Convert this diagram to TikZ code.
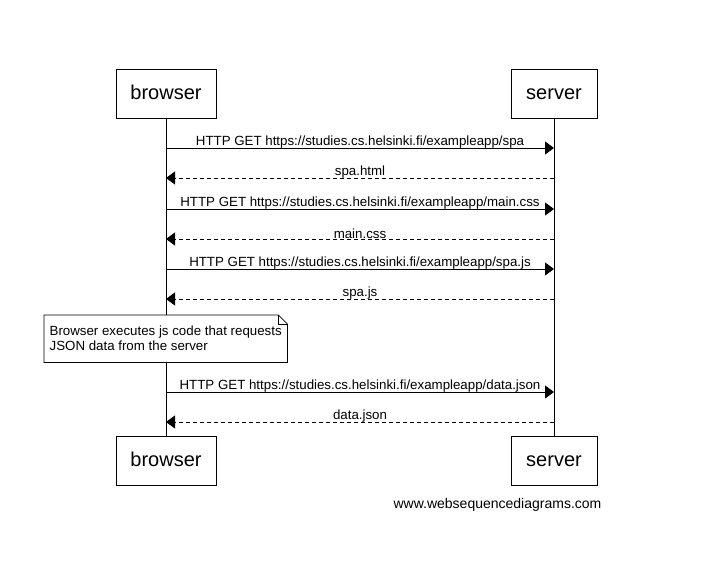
\documentclass[tikz,border=0pt]{standalone}
\usepackage{fontspec}
\setmainfont{Liberation Sans}
\usetikzlibrary{arrows.meta}
\tikzset{
  actor/.style={draw, line width=0.8pt, minimum height=49pt, inner sep=0pt,
    text height=14.5pt, text depth=2pt, font=\fontsize{20}{24}\selectfont},
  lifeline/.style={line width=0.8pt},
  msg/.style={line width=0.8pt, -{Triangle[length=9pt,width=13pt]}},
  reply/.style={msg, dash pattern=on 4pt off 3pt},
  msglabel/.style={midway, above, inner sep=0pt, yshift=-0.5pt, font=\fontsize{13.3}{15}\selectfont}
}

\begin{document}
\begin{tikzpicture}[x=1pt, y=-1pt]
  \useasboundingbox (0,0) rectangle (719,565);

  % ACTORS
  % top boxes
  \node[actor, minimum width=100pt] (browsertop) at (166,93.5) {browser};
  \node[actor, minimum width=86pt] (servertop) at (554,93.5) {server};
  % bottom boxes
  \node[actor, minimum width=100pt] (browserbot) at (166,460.5) {browser};
  \node[actor, minimum width=86pt] (serverbot) at (554,460.5) {server};

  % LIFELINES
  \draw[lifeline] (browsertop) -- (browserbot);
  \draw[lifeline] (servertop) -- (serverbot);

  % MESSAGES
  % points on the lifelines
  \foreach \name/\y in {1/148,2/178,3/209,4/239,5/269,6/299,7/392,8/422}{
    \coordinate (b\name) at (166,\y);
    \coordinate (s\name) at (554,\y);
  }
  % spa
  \draw[msg] (b1) -- (s1) node[msglabel] {HTTP GET https://studies.cs.helsinki.fi/exampleapp/spa};
  \draw[reply] (s2) -- (b2) node[msglabel] {spa.html};
  % main.css
  \draw[msg] (b3) -- (s3) node[msglabel] {HTTP GET https://studies.cs.helsinki.fi/exampleapp/main.css};
  \draw[reply] (s4) -- (b4) node[msglabel] {main.css};
  % spa.js
  \draw[msg] (b5) -- (s5) node[msglabel] {HTTP GET https://studies.cs.helsinki.fi/exampleapp/spa.js};
  \draw[reply] (s6) -- (b6) node[msglabel] {spa.js};

  % NOTE
  \node[anchor=north west, minimum width=243pt, minimum height=47pt, inner sep=0pt,
        align=left, fill=white, font=\fontsize{13.3}{15}\selectfont]
        (note) at (44,315) {Browser executes js code that requests\\JSON data from the server};
  \draw[line width=0.8pt] (note.north west) -- ([xshift=-9pt]note.north east)
    -- ([yshift=-9pt]note.north east) -- (note.south east) -- (note.south west) -- cycle;
  \draw[line width=0.8pt] ([xshift=-9pt]note.north east) -- ([xshift=-9pt,yshift=-9pt]note.north east)
    -- ([yshift=-9pt]note.north east);

  % data.json
  \draw[msg] (b7) -- (s7) node[msglabel] {HTTP GET https://studies.cs.helsinki.fi/exampleapp/data.json};
  \draw[reply] (s8) -- (b8) node[msglabel] {data.json};

  % watermark
  \node[font=\fontsize{14}{17}\selectfont] (wsd) at (497.5,505) {www.websequencediagrams.com};
\end{tikzpicture}
\end{document}
